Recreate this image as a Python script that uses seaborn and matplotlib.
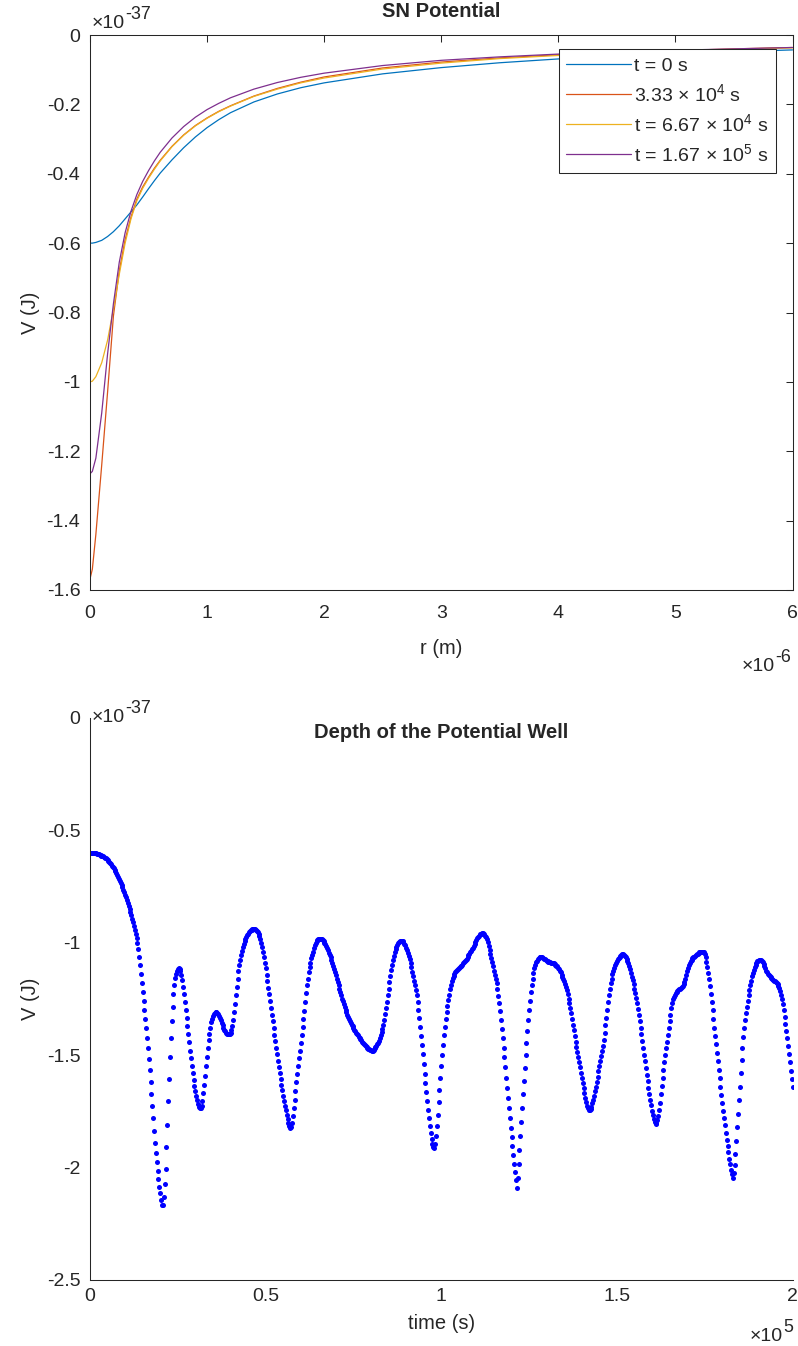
import numpy as np
import pandas as pd
import matplotlib
matplotlib.use("Agg")
import matplotlib.pyplot as plt
import seaborn as sns
from matplotlib.ticker import FuncFormatter, MultipleLocator

# ---------------------------------------------------------------------------
# Data
# ---------------------------------------------------------------------------
# Radial grid, in units of 1e-6 m
r_um = [0.00, 0.02, 0.05, 0.10, 0.15, 0.20, 0.25, 0.30, 0.35, 0.40,
        0.45, 0.50, 0.55, 0.60, 0.70, 0.80, 0.90, 1.00, 1.10, 1.20,
        1.40, 1.60, 1.80, 2.00, 2.50, 3.00, 3.50, 4.00, 4.50, 5.00,
        5.50, 6.00]

# SN potential profiles, in units of 1e-37 J
V_t0 = [-0.600, -0.600, -0.598, -0.592, -0.581, -0.567, -0.550, -0.530, -0.510, -0.490,
        -0.467, -0.443, -0.420, -0.398, -0.360, -0.325, -0.294, -0.267, -0.244, -0.224,
        -0.193, -0.170, -0.152, -0.138, -0.112, -0.094, -0.080, -0.069, -0.061, -0.054,
        -0.048, -0.043]
V_t1 = [-1.568, -1.540, -1.440, -1.240, -1.030, -0.810, -0.680, -0.590, -0.525, -0.473,
        -0.438, -0.410, -0.384, -0.361, -0.321, -0.288, -0.261, -0.239, -0.220, -0.204,
        -0.176, -0.154, -0.136, -0.121, -0.095, -0.078, -0.066, -0.057, -0.050, -0.045,
        -0.040, -0.036]
V_t2 = [-1.000, -0.998, -0.985, -0.945, -0.880, -0.790, -0.690, -0.600, -0.530, -0.478,
        -0.442, -0.413, -0.387, -0.363, -0.322, -0.289, -0.262, -0.240, -0.221, -0.205,
        -0.177, -0.156, -0.138, -0.124, -0.098, -0.081, -0.068, -0.059, -0.052, -0.046,
        -0.041, -0.037]
V_t3 = [-1.265, -1.258, -1.220, -1.090, -0.920, -0.775, -0.655, -0.570, -0.508, -0.460,
        -0.422, -0.391, -0.363, -0.338, -0.297, -0.264, -0.237, -0.215, -0.197, -0.181,
        -0.156, -0.137, -0.122, -0.110, -0.088, -0.073, -0.063, -0.055, -0.049, -0.044,
        -0.040, -0.036]

profile_labels = [
    r"t = 0 s",
    r"3.33 $\times$ 10$^4$ s",
    r"t = 6.67 $\times$ 10$^4$ s",
    r"t = 1.67 $\times$ 10$^5$ s",
]
profile_colors = ["#0072BD", "#D95319", "#EDB120", "#7E2F8E"]

# Depth of the potential well, sampled every 250 s from 0 to 2e5 s (1e-37 J)
time_s = np.linspace(0.0, 2.0e5, 801)
V_depth = [
    -0.600, -0.600, -0.600, -0.601, -0.601, -0.602, -0.603, -0.604, -0.605, -0.606, -0.608, -0.609, -0.611, -0.613, -0.615, -0.617, -0.620, -0.623, -0.626, -0.629,
    -0.633, -0.637, -0.642, -0.647, -0.652, -0.658, -0.664, -0.670, -0.677, -0.684, -0.691, -0.699, -0.707, -0.716, -0.725, -0.734, -0.744, -0.754, -0.765, -0.776,
    -0.788, -0.799, -0.811, -0.823, -0.836, -0.850, -0.864, -0.879, -0.894, -0.910, -0.926, -0.943, -0.960, -0.978, -1.000, -1.028, -1.062, -1.100, -1.140, -1.180,
    -1.220, -1.262, -1.302, -1.340, -1.380, -1.424, -1.470, -1.516, -1.565, -1.618, -1.672, -1.727, -1.782, -1.838, -1.890, -1.935, -1.975, -2.015, -2.050, -2.085,
    -2.115, -2.145, -2.168, -2.165, -2.130, -2.075, -2.005, -1.910, -1.810, -1.705, -1.605, -1.510, -1.425, -1.350, -1.285, -1.230, -1.188, -1.158, -1.138, -1.125,
    -1.118, -1.115, -1.118, -1.128, -1.145, -1.168, -1.197, -1.230, -1.265, -1.300, -1.336, -1.372, -1.408, -1.444, -1.480, -1.515, -1.548, -1.580, -1.610, -1.637,
    -1.661, -1.683, -1.702, -1.718, -1.730, -1.737, -1.736, -1.725, -1.703, -1.670, -1.632, -1.591, -1.550, -1.509, -1.470, -1.435, -1.405, -1.378, -1.355, -1.338,
    -1.325, -1.317, -1.312, -1.310, -1.310, -1.313, -1.318, -1.326, -1.335, -1.346, -1.357, -1.368, -1.378, -1.387, -1.395, -1.401, -1.405, -1.408, -1.408, -1.405,
    -1.400, -1.388, -1.372, -1.343, -1.310, -1.273, -1.235, -1.197, -1.160, -1.128, -1.100, -1.076, -1.055, -1.036, -1.020, -1.007, -0.995, -0.984, -0.975, -0.967,
    -0.960, -0.955, -0.950, -0.946, -0.943, -0.941, -0.940, -0.940, -0.941, -0.944, -0.948, -0.953, -0.960, -0.971, -0.985, -1.001, -1.020, -1.042, -1.065, -1.090,
    -1.115, -1.142, -1.170, -1.200, -1.230, -1.260, -1.290, -1.320, -1.350, -1.380, -1.410, -1.439, -1.468, -1.497, -1.525, -1.553, -1.580, -1.606, -1.632, -1.657,
    -1.680, -1.703, -1.725, -1.746, -1.765, -1.783, -1.800, -1.815, -1.825, -1.818, -1.800, -1.770, -1.735, -1.698, -1.660, -1.622, -1.585, -1.550, -1.515, -1.480,
    -1.445, -1.410, -1.375, -1.340, -1.305, -1.265, -1.225, -1.190, -1.160, -1.133, -1.110, -1.089, -1.070, -1.054, -1.040, -1.025, -1.012, -1.003, -0.995, -0.989,
    -0.985, -0.983, -0.982, -0.983, -0.985, -0.989, -0.995, -1.001, -1.008, -1.016, -1.025, -1.035, -1.045, -1.055, -1.065, -1.077, -1.090, -1.103, -1.117, -1.131,
    -1.145, -1.160, -1.175, -1.190, -1.205, -1.220, -1.235, -1.249, -1.262, -1.275, -1.287, -1.299, -1.310, -1.320, -1.330, -1.339, -1.348, -1.357, -1.365, -1.373,
    -1.380, -1.387, -1.394, -1.401, -1.407, -1.413, -1.419, -1.425, -1.430, -1.435, -1.440, -1.445, -1.450, -1.455, -1.459, -1.463, -1.467, -1.471, -1.474, -1.477,
    -1.479, -1.480, -1.480, -1.476, -1.470, -1.466, -1.460, -1.453, -1.445, -1.436, -1.425, -1.412, -1.398, -1.383, -1.365, -1.343, -1.318, -1.292, -1.265, -1.235,
    -1.205, -1.177, -1.150, -1.124, -1.100, -1.079, -1.060, -1.044, -1.030, -1.019, -1.010, -1.003, -0.998, -0.995, -0.993, -0.993, -0.995, -0.999, -1.005, -1.013,
    -1.022, -1.033, -1.045, -1.059, -1.075, -1.092, -1.110, -1.130, -1.150, -1.170, -1.190, -1.211, -1.235, -1.265, -1.300, -1.337, -1.375, -1.415, -1.455, -1.497,
    -1.540, -1.583, -1.625, -1.666, -1.705, -1.743, -1.780, -1.814, -1.845, -1.872, -1.895, -1.910, -1.915, -1.895, -1.860, -1.815, -1.765, -1.710, -1.655, -1.602,
    -1.550, -1.502, -1.455, -1.413, -1.375, -1.341, -1.310, -1.281, -1.255, -1.231, -1.208, -1.189, -1.172, -1.159, -1.148, -1.139, -1.132, -1.127, -1.122, -1.118,
    -1.114, -1.110, -1.106, -1.102, -1.098, -1.093, -1.088, -1.083, -1.077, -1.071, -1.064, -1.057, -1.050, -1.043, -1.036, -1.029, -1.022, -1.014, -1.005, -0.996,
    -0.988, -0.981, -0.974, -0.969, -0.964, -0.961, -0.959, -0.958, -0.960, -0.964, -0.970, -0.977, -0.985, -0.999, -1.015, -1.032, -1.050, -1.068, -1.087, -1.106,
    -1.125, -1.142, -1.160, -1.181, -1.205, -1.236, -1.270, -1.306, -1.345, -1.385, -1.425, -1.467, -1.510, -1.555, -1.600, -1.645, -1.690, -1.735, -1.780, -1.823,
    -1.865, -1.905, -1.945, -1.983, -2.020, -2.055, -2.090, -2.045, -1.985, -1.923, -1.860, -1.797, -1.735, -1.675, -1.615, -1.557, -1.500, -1.446, -1.395, -1.346,
    -1.300, -1.258, -1.220, -1.188, -1.160, -1.136, -1.115, -1.100, -1.088, -1.080, -1.073, -1.069, -1.066, -1.065, -1.064, -1.066, -1.068, -1.071, -1.075, -1.078,
    -1.081, -1.083, -1.085, -1.087, -1.088, -1.089, -1.090, -1.091, -1.093, -1.095, -1.098, -1.102, -1.106, -1.112, -1.118, -1.125, -1.133, -1.142, -1.152, -1.162,
    -1.173, -1.185, -1.197, -1.213, -1.230, -1.250, -1.270, -1.292, -1.315, -1.340, -1.365, -1.390, -1.415, -1.440, -1.464, -1.487, -1.510, -1.533, -1.555, -1.578,
    -1.600, -1.623, -1.645, -1.668, -1.690, -1.709, -1.725, -1.737, -1.745, -1.746, -1.740, -1.729, -1.715, -1.698, -1.680, -1.660, -1.640, -1.618, -1.596, -1.573,
    -1.550, -1.527, -1.505, -1.483, -1.460, -1.431, -1.400, -1.368, -1.335, -1.300, -1.265, -1.233, -1.205, -1.181, -1.160, -1.141, -1.125, -1.112, -1.100, -1.090,
    -1.082, -1.075, -1.068, -1.063, -1.058, -1.055, -1.053, -1.053, -1.055, -1.059, -1.065, -1.073, -1.082, -1.093, -1.105, -1.119, -1.135, -1.151, -1.168, -1.186,
    -1.205, -1.225, -1.245, -1.269, -1.295, -1.322, -1.350, -1.379, -1.408, -1.438, -1.468, -1.498, -1.528, -1.558, -1.588, -1.617, -1.645, -1.672, -1.698, -1.724,
    -1.748, -1.768, -1.785, -1.798, -1.805, -1.802, -1.790, -1.770, -1.745, -1.712, -1.675, -1.638, -1.600, -1.565, -1.530, -1.499, -1.470, -1.440, -1.410, -1.380,
    -1.350, -1.320, -1.290, -1.268, -1.252, -1.241, -1.232, -1.226, -1.220, -1.216, -1.212, -1.208, -1.205, -1.202, -1.198, -1.192, -1.185, -1.174, -1.160, -1.145,
    -1.128, -1.113, -1.100, -1.090, -1.082, -1.076, -1.070, -1.066, -1.062, -1.058, -1.055, -1.052, -1.049, -1.046, -1.044, -1.042, -1.041, -1.040, -1.040, -1.043,
    -1.052, -1.066, -1.085, -1.108, -1.135, -1.164, -1.195, -1.229, -1.265, -1.302, -1.340, -1.378, -1.415, -1.453, -1.490, -1.528, -1.565, -1.603, -1.640, -1.676,
    -1.712, -1.747, -1.780, -1.813, -1.845, -1.876, -1.905, -1.933, -1.960, -1.986, -2.010, -2.030, -2.045, -2.025, -1.990, -1.938, -1.880, -1.820, -1.760, -1.700,
    -1.640, -1.580, -1.520, -1.467, -1.420, -1.380, -1.345, -1.313, -1.285, -1.259, -1.235, -1.212, -1.190, -1.169, -1.150, -1.134, -1.120, -1.108, -1.098, -1.090,
    -1.084, -1.080, -1.078, -1.077, -1.077, -1.080, -1.085, -1.094, -1.105, -1.115, -1.125, -1.133, -1.140, -1.145, -1.150, -1.154, -1.158, -1.162, -1.165, -1.169,
    -1.173, -1.176, -1.180, -1.185, -1.192, -1.202, -1.215, -1.231, -1.250, -1.273, -1.300, -1.329, -1.360, -1.392, -1.425, -1.460, -1.495, -1.532, -1.570, -1.605,
    -1.640,
]

# ---------------------------------------------------------------------------
# Style
# ---------------------------------------------------------------------------
sns.set_theme(style="white")
AX_COLOR = "#262626"
plt.rcParams.update({
    "font.family": ["Liberation Sans", "DejaVu Sans"],
    "mathtext.fontset": "custom",
    "mathtext.rm": "Liberation Sans",
    "mathtext.it": "Liberation Sans:italic",
    "mathtext.bf": "Liberation Sans:bold",
    "axes.unicode_minus": False,
    "axes.edgecolor": AX_COLOR,
    "axes.linewidth": 0.75,
    "text.color": AX_COLOR,
    "axes.labelcolor": AX_COLOR,
    "xtick.color": AX_COLOR,
    "ytick.color": AX_COLOR,
})

TICK_FS = 14
LABEL_FS = 14.5
TITLE_FS = 14.5
LEGEND_FS = 14

W, H = 798, 1346
fig = plt.figure(figsize=(W / 100, H / 100), dpi=100)


def px_box(x0, y0, x1, y1):
    return [x0 / W, 1 - y1 / H, (x1 - x0) / W, (y1 - y0) / H]


ax1 = fig.add_axes(px_box(90, 35, 792.5, 590))
ax2 = fig.add_axes(px_box(90, 717.6, 792.5, 1280))

fmt_g = FuncFormatter(lambda v, _: f"{v:g}")


def style_axes(ax, box, xpad):
    ax.tick_params(which="both", direction="in", length=5, width=0.75,
                   labelsize=TICK_FS, top=box, right=box,
                   labeltop=False, labelright=False)
    ax.tick_params(axis="y", pad=7)
    ax.tick_params(axis="x", pad=xpad)
    for side in ("top", "right"):
        ax.spines[side].set_visible(box)
    ax.xaxis.set_major_formatter(fmt_g)
    ax.yaxis.set_major_formatter(fmt_g)


def exponent_label(x_px, base_px, power, align="left"):
    """MATLAB-style axis multiplier: '×10' followed by a raised power."""
    renderer = fig.canvas.get_renderer()
    base = fig.text(0, 0, "\u00d710", fontsize=TICK_FS, va="baseline")
    sup = fig.text(0, 0, power, fontsize=TICK_FS * 0.92, va="baseline")
    wb = base.get_window_extent(renderer).width
    ws = sup.get_window_extent(renderer).width
    x0 = x_px if align == "left" else x_px - wb - ws
    base.set_position((x0 / W, 1 - base_px / H))
    sup.set_position(((x0 + wb) / W, 1 - (base_px - 9) / H))


# ---------------------------------------------------------------------------
# Top panel: potential profiles
# ---------------------------------------------------------------------------
profiles = pd.concat(
    [pd.DataFrame({"r": r_um, "V": v, "snapshot": lab})
     for v, lab in zip([V_t0, V_t1, V_t2, V_t3], profile_labels)],
    ignore_index=True,
)
sns.lineplot(data=profiles, x="r", y="V", hue="snapshot",
             hue_order=profile_labels, palette=profile_colors,
             sort=False, estimator=None, linewidth=0.9, ax=ax1)
ax1.set_xlim(0, 6)
ax1.set_ylim(-1.6, 0)
ax1.xaxis.set_major_locator(MultipleLocator(1))
ax1.yaxis.set_major_locator(MultipleLocator(0.2))
style_axes(ax1, True, xpad=11)
ax1.set_xlabel("r (m)", fontsize=LABEL_FS, labelpad=12)
ax1.set_ylabel("V (J)", fontsize=LABEL_FS, labelpad=5)
ax1.set_title("SN Potential", fontsize=TITLE_FS, fontweight="bold", pad=13)

leg = ax1.legend(loc="upper right", bbox_to_anchor=(0.976, 0.974),
                 fontsize=LEGEND_FS, frameon=True, fancybox=False, framealpha=1,
                 edgecolor=AX_COLOR, handlelength=3.3, handletextpad=0.15,
                 labelspacing=0.42, borderpad=0.4, borderaxespad=0.0)
leg.get_frame().set_linewidth(0.75)

exponent_label(92, 28, "-37", align="left")
exponent_label(791, 671, "-6", align="right")

# ---------------------------------------------------------------------------
# Bottom panel: depth of the well over time
# ---------------------------------------------------------------------------
depth = pd.DataFrame({"time": time_s, "V": V_depth})
sns.scatterplot(data=depth, x="time", y="V", color="#0000FF", s=13,
                linewidth=0, marker="o", ax=ax2)
ax2.set_xlim(0, 2.0e5)
ax2.set_ylim(-2.5, 0)
ax2.xaxis.set_major_locator(MultipleLocator(0.5e5))
ax2.yaxis.set_major_locator(MultipleLocator(0.5))
style_axes(ax2, False, xpad=6)
ax2.xaxis.set_major_formatter(FuncFormatter(lambda v, _: f"{v / 1e5:g}"))
ax2.set_xlabel("time (s)", fontsize=LABEL_FS, labelpad=6)
ax2.set_ylabel("V (J)", fontsize=LABEL_FS, labelpad=5)
fig.text(441 / W, 1 - 738 / H, "Depth of the Potential Well",
         fontsize=TITLE_FS, fontweight="bold", ha="center", va="baseline")

exponent_label(92, 722, "-37", align="left")
exponent_label(793, 1341, "5", align="right")

fig.savefig("out.png", dpi=100, facecolor="white")
